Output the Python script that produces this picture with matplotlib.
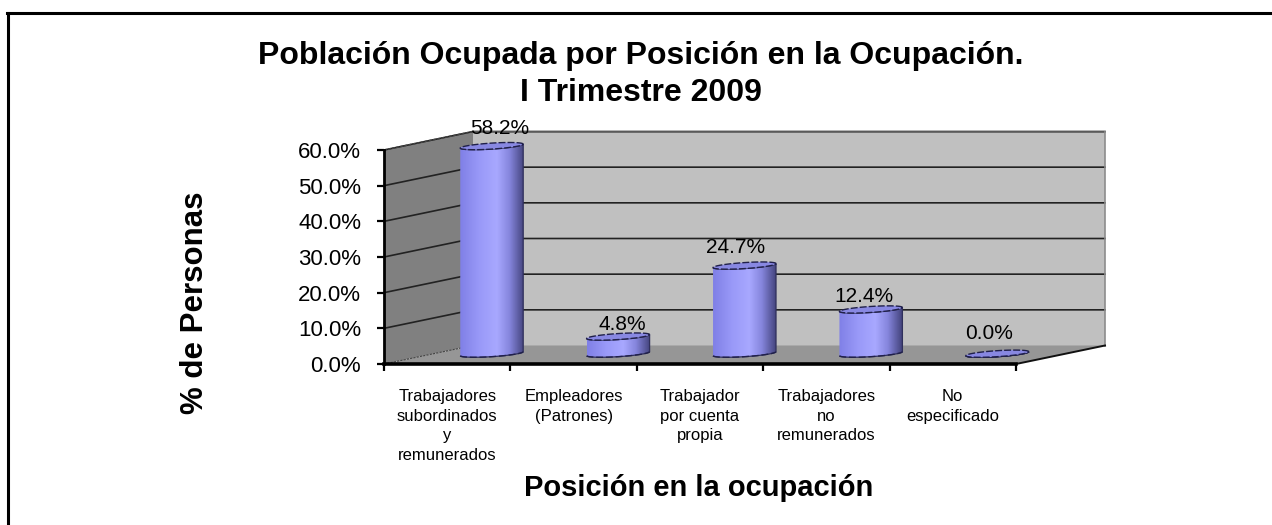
import numpy as np
import matplotlib
matplotlib.use('Agg')
import matplotlib.pyplot as plt
from matplotlib.colors import LinearSegmentedColormap
from matplotlib.patches import PathPatch
from matplotlib.path import Path

plt.rcParams['font.family'] = ['Liberation Sans', 'DejaVu Sans']

# datos
categorias = ['Trabajadores\nsubordinados\ny\nremunerados', 'Empleadores\n(Patrones)',
              'Trabajador\npor cuenta\npropia', 'Trabajadores\nno\nremunerados', 'No\nespecificado']
valores = [58.2, 4.8, 24.7, 12.4, 0.0]
etiquetas = ['58.2%', '4.8%', '24.7%', '12.4%', '0.0%']
ticks_y = [0, 10, 20, 30, 40, 50, 60]
ticks_y_txt = ['0.0%', '10.0%', '20.0%', '30.0%', '40.0%', '50.0%', '60.0%']

W, H = 1272, 525
fig = plt.figure(figsize=(W / 100, H / 100), dpi=100, facecolor='white')

# marco: solo arriba e izquierda
fig.add_artist(plt.Line2D([8 / W, 8 / W], [0, 1 - 13 / H], color='black', lw=2.2))
fig.add_artist(plt.Line2D([7 / W, 1], [1 - 13 / H, 1 - 13 / H], color='black', lw=2.2))

# plano frontal del grafico
ax = fig.add_axes([384 / W, 1 - 364 / H, 632 / W, 214 / H])
ax.set_facecolor('none')
ax.set_xlim(0, 5)
ax.set_ylim(0, 60)
for s in ['top', 'right']:
    ax.spines[s].set_visible(False)
ax.spines['left'].set_linewidth(2)
ax.spines['bottom'].set_linewidth(2.6)
ax.spines['left'].set_zorder(8)
ax.spines['bottom'].set_zorder(8)

# profundidad del efecto 3D en unidades de datos
prof_x = 89 / (632 / 5)
prof_y = 18.5 / (214 / 60)
px_x = 5 / 632
px_y = 60 / 214

# paredes y piso
ax.fill([prof_x, 5 + prof_x, 5 + prof_x, prof_x], [prof_y, prof_y, 60 + prof_y, 60 + prof_y],
        color='#c0c0c0', clip_on=False, zorder=1, lw=0)
ax.fill([0, prof_x, prof_x, 0], [0, prof_y, 60 + prof_y, 60], color='#808080', clip_on=False, zorder=1, lw=0)
ax.fill([0, 5, 5 + prof_x, prof_x], [0, 0, prof_y, prof_y], color='#969696', clip_on=False, zorder=1, lw=0)

for v in ticks_y[1:]:
    ax.plot([0, prof_x, 5 + prof_x], [v, v + prof_y, v + prof_y], color='#222222', lw=1.2,
            clip_on=False, zorder=2)
ax.plot([0, prof_x], [60, 60 + prof_y], color='#444444', lw=1, ls=(0, (2, 1)), clip_on=False, zorder=2)
ax.plot([prof_x, 5 + prof_x], [60 + prof_y, 60 + prof_y], color='#666666', lw=1.2, clip_on=False, zorder=2)
ax.plot([5 + prof_x, 5 + prof_x], [prof_y, 60 + prof_y], color='#8c8c8c', lw=1.2, clip_on=False, zorder=2)
ax.plot([0, prof_x], [0, prof_y], color='#444444', lw=0.8, ls=(0, (2, 1)), clip_on=False, zorder=2)
ax.plot([5, 5 + prof_x], [0, prof_y], color='#111111', lw=1.4, clip_on=False, zorder=2)

# cilindros
cmap = LinearSegmentedColormap.from_list('cil', [(0, '#8080e6'), (0.3, '#9999f8'), (0.58, '#a8a8ff'),
                                                 (0.78, '#8585dc'), (1, '#45457f')])
grad = np.linspace(0, 1, 128).reshape(1, -1)
radio = 31.5 * px_x
alto_e = 6 * px_y
incl = 4 * px_y / (2 * radio)  # las elipses suben hacia la derecha
t = np.linspace(0, 2 * np.pi, 60)
# desplazamiento de cada etiqueta respecto a la tapa, en puntos
despl = [(6, 13), (3, 9), (-6.5, 13), (-5, 9.5), (-6, 14.5)]

for i, v in enumerate(valores):
    cx = i + 0.5 + prof_x / 2
    cy = prof_y / 2 + 0.3
    ex = cx + radio * np.cos(t)
    base = cy + alto_e / 2 * np.sin(t) + incl * (ex - cx)
    tapa = base + v
    mitad = t >= np.pi
    xs = np.r_[ex[mitad], ex[mitad][::-1]]
    ys = np.r_[base[mitad], tapa[mitad][::-1]]
    cuerpo = PathPatch(Path(np.c_[xs, ys], closed=False), fc='none', ec='#30305c', lw=0.9, clip_on=False, zorder=4)
    ax.add_patch(cuerpo)
    im = ax.imshow(grad, extent=[cx - radio, cx + radio, cy - 2 * alto_e, cy + v + 2 * alto_e], aspect='auto',
                   cmap=cmap, zorder=3, interpolation='bilinear')
    im.set_clip_path(cuerpo)
    im.set_clip_box(fig.bbox)
    ax.plot(ex[mitad], base[mitad], color='#20204a', lw=1, ls=(0, (5, 2)), clip_on=False, zorder=4)
    ax.fill(ex, tapa, fc='#8888e2', ec='#20204a', lw=1, ls=(0, (5, 1.5)), clip_on=False, zorder=5)
    ax.annotate(etiquetas[i], (cx, cy + v), xytext=despl[i], textcoords='offset points',
                ha='center', va='center', fontsize=15, zorder=7, annotation_clip=False)

ax.set_xlim(0, 5)
ax.set_ylim(0, 60)

# ejes
ax.set_yticks(ticks_y)
ax.set_yticklabels(ticks_y_txt, fontsize=16)
ax.tick_params(axis='y', length=5, width=1.6, pad=11.5)
ax.set_xticks(range(6))
ax.set_xticklabels([])
ax.tick_params(axis='x', which='major', length=5, width=1.6)
ax.set_xticks([i + 0.5 for i in range(5)], minor=True)
ax.set_xticklabels(categorias, minor=True, fontsize=12, linespacing=1.38)
ax.tick_params(axis='x', which='minor', length=0, pad=18)

# titulos
fig.text(641 / W, 1 - 56 / H, 'Población Ocupada por Posición en la Ocupación.', ha='center', va='center',
         fontsize=23, fontweight='bold')
fig.text(641 / W, 1 - 93 / H, 'I Trimestre 2009', ha='center', va='center', fontsize=23, fontweight='bold')
fig.text(699 / W, 1 - 496 / H, 'Posición en la ocupación', ha='center', va='baseline', fontsize=21,
         fontweight='bold')
fig.text(203 / W, 1 - 303 / H, '% de Personas', ha='center', va='baseline', rotation=90,
         rotation_mode='anchor', fontsize=22.5, fontweight='bold')

fig.savefig('out.png', dpi=100)
